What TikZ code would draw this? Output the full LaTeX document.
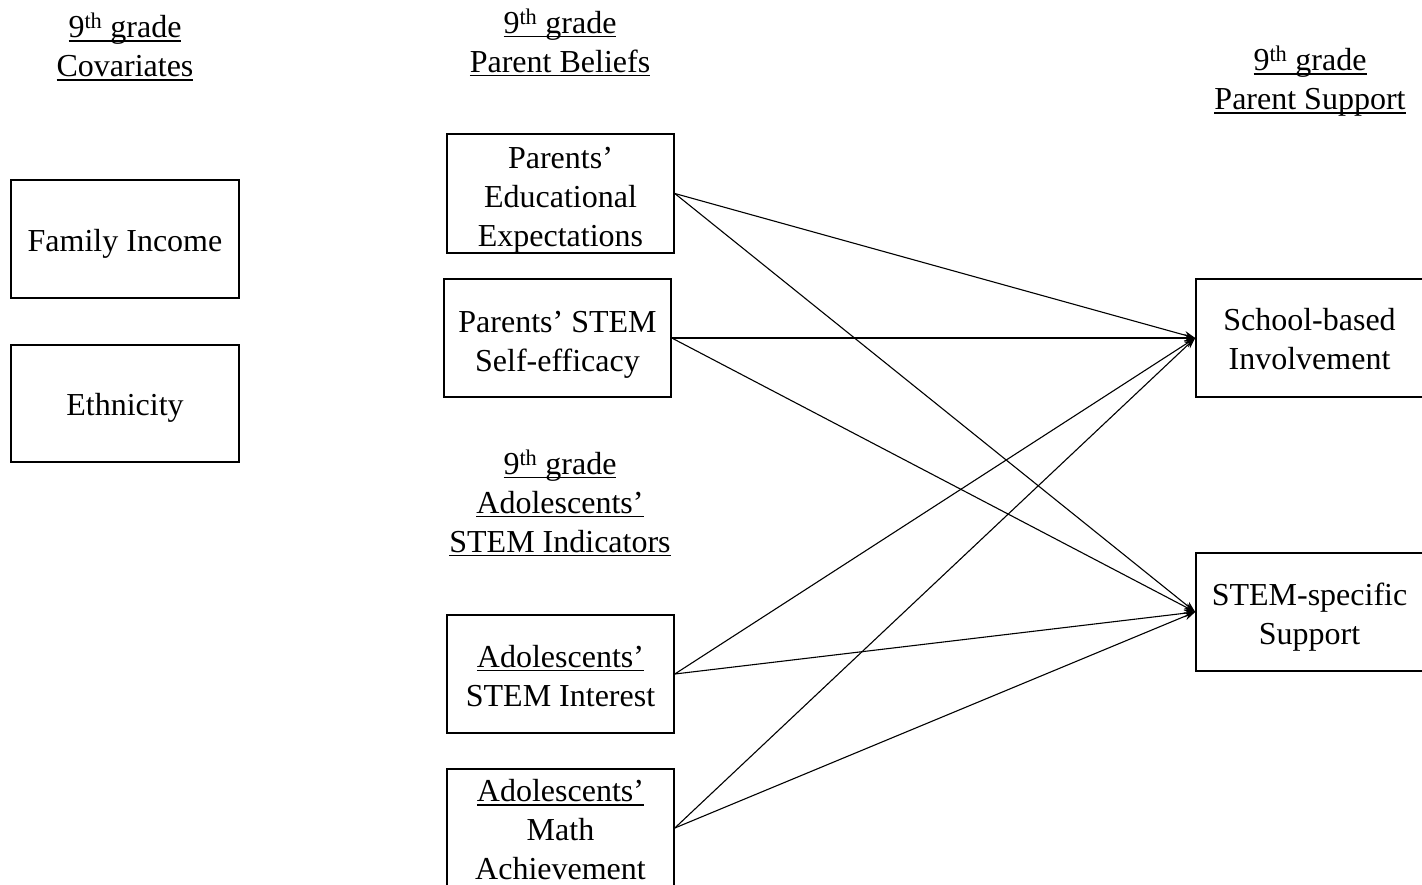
\documentclass[tikz,border=0pt]{standalone}
\usepackage{fontspec}
\setmainfont{Liberation Serif}
\usetikzlibrary{arrows.meta}
% underline at a fixed depth below the baseline
\newsavebox\ulinebox
\newcommand\ulin[1]{\sbox\ulinebox{#1}\rlap{\rule[-4pt]{\wd\ulinebox}{1.6pt}}\usebox\ulinebox}
\newcommand\nth{9\textsuperscript{th}}
% invisible strut on the first line: lowers the text block by #1
\newcommand\dn[1]{\rule{0pt}{\dimexpr 22pt+#1+#1\relax}}
\begin{document}
\begin{tikzpicture}[x=1pt, y=-1pt,
  txt/.style={align=center, font=\fontsize{32}{39}\selectfont, inner sep=0pt},
  varbox/.style={txt, draw, line width=1.6pt, minimum width=227pt, minimum height=118pt},
  path/.style={line width=1.1pt, -{Stealth[length=11pt, width=8pt]}}]
\useasboundingbox (0,0) rectangle (1422,885);

% column headers
\node[txt] (hcov) at (125,47) {\ulin{\nth{} grade}\\\ulin{Covariates}};
\node[txt] (hbel) at (560,42.5) {\ulin{\nth{} grade}\\\ulin{Parent Beliefs}};
\node[txt] (hsup) at (1310,81.5) {\ulin{\nth{} grade}\\\ulin{Parent Support}};
\node[txt] (hind) at (560,503) {\ulin{\nth{} grade}\\\ulin{Adolescents’}\\\ulin{STEM Indicators}};

% covariates
\node[varbox, minimum width=228pt] (fi) at (125,239) {\dn{5pt}Family Income};
\node[varbox, minimum width=228pt, minimum height=117pt] (eth) at (125,403.5) {\dn{4pt}Ethnicity};

% parent beliefs
\node[varbox, minimum height=117pt] (ee) at (560.5,193.5) {\dn{6pt}Parents’\\Educational\\Expectations};
\node[varbox] (se) at (557.5,338) {\dn{6pt}Parents’ STEM\\Self-efficacy};

% adolescents' indicators
\node[varbox] (si) at (560.5,674) {\dn{2pt}\ulin{Adolescents’}\\STEM Interest};
\node[varbox] (ma) at (560.5,828) {\dn{2pt}\ulin{Adolescents’}\\Math\\Achievement};

% parent support outcomes
\node[varbox] (sb) at (1309.5,338) {\dn{1.5pt}School-based\\Involvement};
\node[varbox] (ss) at (1309.5,612) {\dn{5pt}STEM-specific\\Support};

% paths
\foreach \s in {ee,se,si,ma}{
  \draw[path] (\s.east) -- (sb.west);
  \draw[path] (\s.east) -- (ss.west);
}
\end{tikzpicture}
\end{document}
